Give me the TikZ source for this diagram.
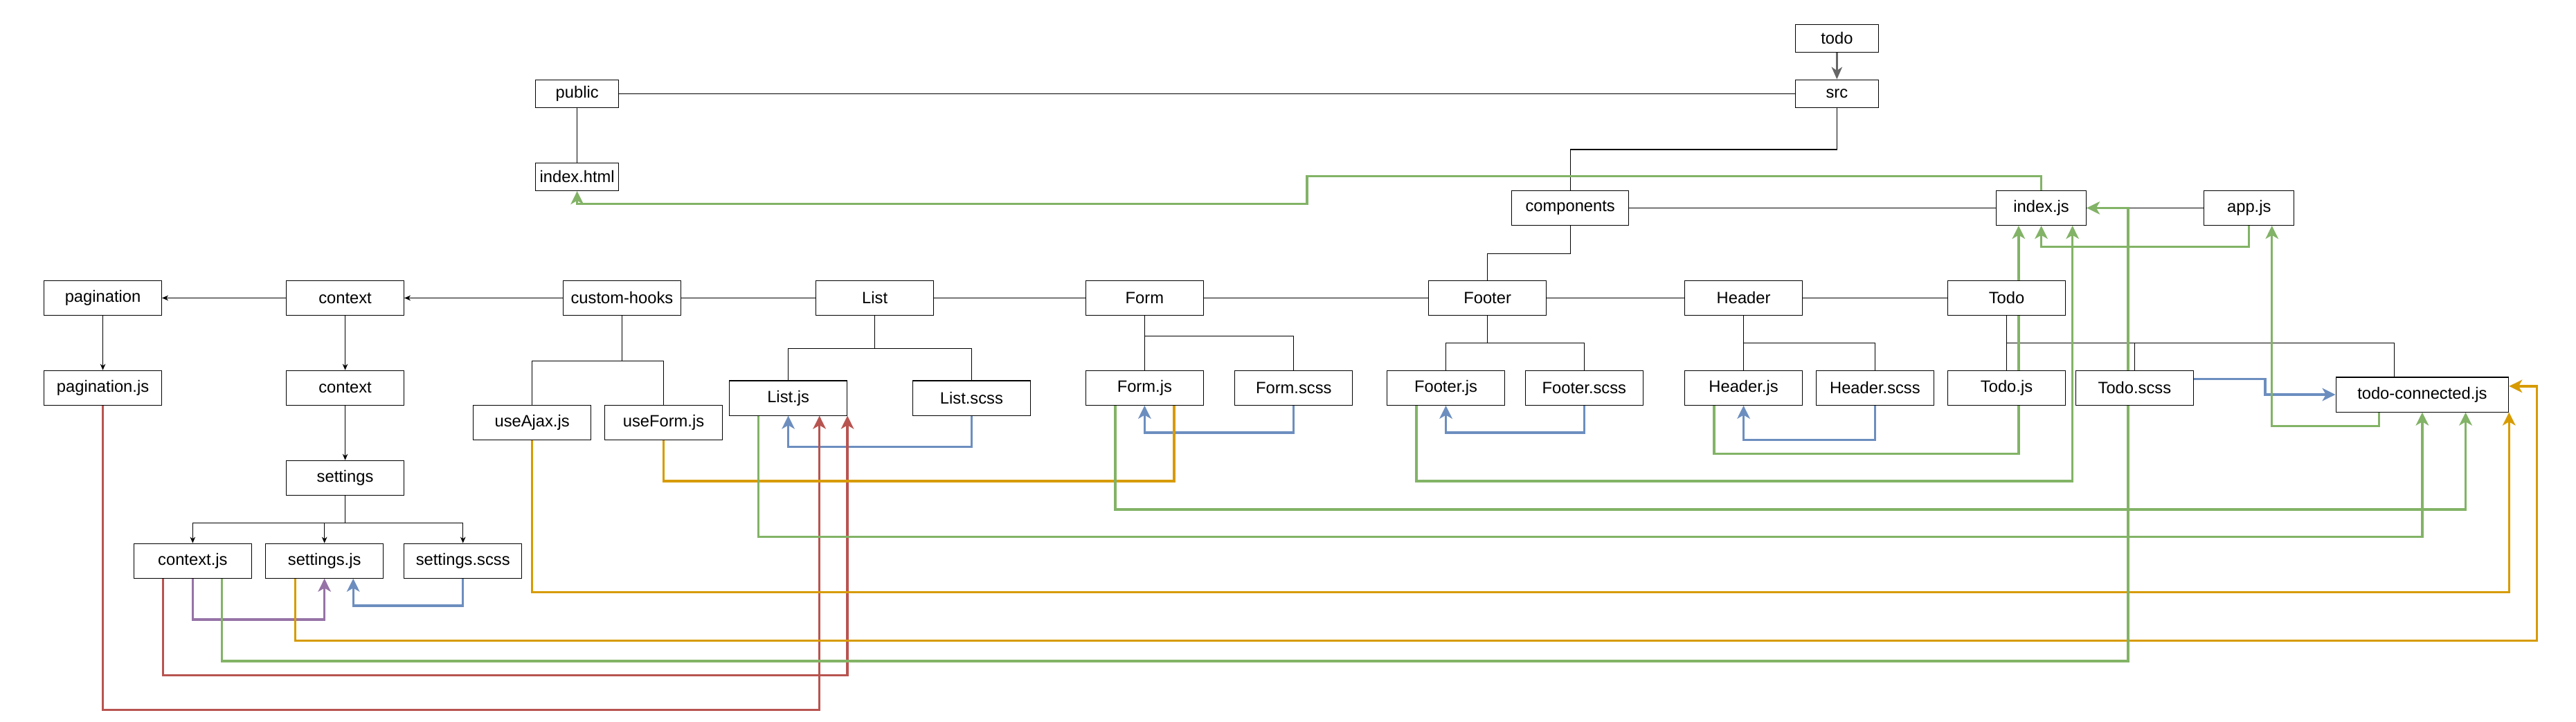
\documentclass[tikz,border=0pt]{standalone}
\usepackage{fontspec}
\setmainfont{Liberation Sans}
\usetikzlibrary{arrows.meta,backgrounds}

\definecolor{impgreen}{HTML}{82B366}
\definecolor{impblue}{HTML}{6C8EBF}
\definecolor{impred}{HTML}{B85450}
\definecolor{imporange}{HTML}{D79B00}
\definecolor{imppurple}{HTML}{9673A6}

\tikzset{
  file/.style={draw, fill=white, line width=0.45pt, minimum width=71.6pt, minimum height=21.1pt, inner sep=0pt, font=\fontsize{10}{12}\selectfont},
  dir/.style={file, minimum width=50.4pt, minimum height=17pt},
  branch/.style={line width=0.45pt},
  branchto/.style={branch, -{Stealth[length=3.8pt,width=3.2pt,inset=1.2pt]}},
  rootarrow/.style={line width=1.1pt, draw=black!60, -{Stealth[length=7.5pt,width=6.5pt,inset=2.2pt]}},
  plainimp/.style={line width=1.4pt},
  imp/.style={plainimp, -{Stealth[length=8pt,width=7.8pt,inset=2.2pt]}}
}

\begin{document}
\begin{tikzpicture}[x=1pt,y=-1pt]
\useasboundingbox (0,0) rectangle (1568,439.1);

% top of the tree
\path (1118.1,23.3) node[dir] (todoroot) {todo}
      (1118.1,57) node[dir] (src) {src}
      (351.3,57) node[dir] (public) {public}
      (351.3,107.6) node[dir] (indexhtml) {index.html}
      (955.8,126.6) node[file, minimum width=71.4pt] (components) {components}
      (1242.5,126.6) node[file, minimum width=54.8pt] (indexjs) {index.js}
      (1369,126.6) node[file, minimum width=54.8pt] (appjs) {app.js}
      ;

% folders
\path (62.6,181.4) node[file] (pagination) {pagination}
      (210.1,181.4) node[file] (context) {context}
      (378.6,181.4) node[file] (customhooks) {custom-hooks}
      (532.5,181.4) node[file] (list) {List}
      (696.7,181.4) node[file] (form) {Form}
      (905.4,181.4) node[file] (footer) {Footer}
      (1061.3,181.4) node[file] (header) {Header}
      (1221.4,181.4) node[file] (todo) {Todo}
      (210.1,236.1) node[file] (contextdir) {context}
      (210.1,290.9) node[file] (settings) {settings}
      ;

% files
\path (62.6,236.1) node[file] (paginationjs) {pagination.js}
      (117.3,341.4) node[file] (contextjs) {context.js}
      (197.5,341.4) node[file] (settingsjs) {settings.js}
      (281.8,341.4) node[file] (settingsscss) {settings.scss}
      (323.9,257.1) node[file] (useajaxjs) {useAjax.js}
      (403.9,257.1) node[file] (useformjs) {useForm.js}
      (479.8,242.3) node[file] (listjs) {List.js}
      (591.4,242.3) node[file] (listscss) {List.scss}
      (696.7,236.1) node[file] (formjs) {Form.js}
      (787.5,236.1) node[file] (formscss) {Form.scss}
      (880.1,236.1) node[file] (footerjs) {Footer.js}
      (964.3,236.1) node[file] (footerscss) {Footer.scss}
      (1061.3,236.1) node[file] (headerjs) {Header.js}
      (1141.3,236.1) node[file] (headerscss) {Header.scss}
      (1221.4,236.1) node[file] (todojs) {Todo.js}
      (1299.3,236.1) node[file] (todoscss) {Todo.scss}
      (1474.4,240.2) node[file, minimum width=105.2pt] (todoconn) {todo-connected.js}
      ;

\begin{scope}[on background layer]
% folder tree
\draw[rootarrow] (node cs:name=todoroot) -- (node cs:name=src);
\draw[branch] (node cs:name=public) -- (node cs:name=src);
\draw[branch] (node cs:name=public) -- (node cs:name=indexhtml);
\draw[branch] (src.south) -- ++(0,25.3) -| (components.north);
\draw[branch] (node cs:name=components) -- (node cs:name=indexjs);
\draw[branch] (node cs:name=indexjs) -- (node cs:name=appjs);
\draw[branch] (components.south) -- ++(0,16.9) -| (footer.north);
\draw[branch] (node cs:name=footer) -- (node cs:name=form);
\draw[branch] (node cs:name=form) -- (node cs:name=list);
\draw[branch] (node cs:name=list) -- (node cs:name=customhooks);
\draw[branchto] (node cs:name=customhooks) -- (node cs:name=context);
\draw[branchto] (node cs:name=context) -- (node cs:name=pagination);
\draw[branch] (node cs:name=footer) -- (node cs:name=header);
\draw[branch] (node cs:name=header) -- (node cs:name=todo);
\draw[branchto] (node cs:name=pagination) -- (node cs:name=paginationjs);
\draw[branchto] (node cs:name=context) -- (node cs:name=contextdir);
\draw[branchto] (node cs:name=contextdir) -- (node cs:name=settings);
\foreach \n in {contextjs,settingsjs,settingsscss}
  \draw[branchto] (settings.south) -- ++(0,16.8) -| (\n.north);
\foreach \n in {useajaxjs,useformjs}
  \draw[branch] (customhooks.south) -- ++(0,27.4) -| (\n.north);
\foreach \n in {listjs,listscss}
  \draw[branch] (list.south) -- ++(0,19.9) -| (\n.north);
\draw[branch] (node cs:name=form) -- (node cs:name=formjs);
\draw[branch] (form.south) -- ++(0,12.6) -| (formscss.north);
\foreach \n in {footerjs,footerscss}
  \draw[branch] (footer.south) -- ++(0,16.7) -| (\n.north);
\draw[branch] (node cs:name=header) -- (node cs:name=headerjs);
\draw[branch] (header.south) -- ++(0,16.7) -| (headerscss.north);
\draw[branch] (node cs:name=todo) -- (node cs:name=todojs);
\draw[branch] (todo.south) -- ++(0,16.7) -| (todoscss.north);
\draw[branch] (todo.south) -- ++(0,16.7) -| ([xshift=-16.9pt]todoconn.north);

% styles into components
\draw[imp, impblue] (settingsscss.south) -- ++(0,16.5) -| ([xshift=17.5pt]settingsjs.south);
\draw[imp, impblue] (listscss.south) -- ++(0,19) -| (listjs.south);
\draw[imp, impblue] (formscss.south) -- ++(0,16.5) -| (formjs.south);
\draw[imp, impblue] (footerscss.south) -- ++(0,16.5) -| (footerjs.south);
\draw[imp, impblue] (headerscss.south) -- ++(0,21) -| (headerjs.south);
\draw[imp, impblue] ([yshift=5.3pt]todoscss.east) -- ++(43.4,0) |- (todoconn.west);

% context
\draw[imp, imppurple] (contextjs.south) -- ++(0,25) -| (settingsjs.south);
\draw[imp, impred] (paginationjs.south) -- ++(0,185.2) -| ([xshift=19pt]listjs.south);
\draw[imp, impred] ([xshift=-18pt]contextjs.south) -- ++(0,58.9) -| (listjs.south east);

% hooks
\draw[plainimp, imporange] (useformjs.south) -- ++(0,25) -| ([xshift=18pt]formjs.south);
\draw[imp, imporange] (useajaxjs.south) -- ++(0,92.6) -| (todoconn.south east);
\draw[imp, imporange] ([xshift=-17.8pt]settingsjs.south) -- ++(0,37.8) -| ([xshift=16.9pt,yshift=5.1pt]todoconn.east) -- ([yshift=5.1pt]todoconn.east);

% components into index.js and todo-connected.js
\draw[imp, impgreen] (indexjs.north) -- ++(0,-8.5) -- ++(-446.9,0) -- ++(0,16.7) -| (indexhtml.south);
\draw[imp, impgreen] (appjs.south) -- ++(0,12.8) -| (indexjs.south);
\draw[imp, impgreen] ([xshift=17.7pt]contextjs.south) -- ++(0,50.3) -| ([xshift=25.2pt]indexjs.east) -- (indexjs.east);
\draw[imp, impgreen] ([xshift=-18.2pt]listjs.south) -- ++(0,73.7) -| (todoconn.south);
\draw[imp, impgreen] ([xshift=-17.9pt]formjs.south) -- ++(0,63.2) -| ([xshift=26.4pt]todoconn.south);
\draw[imp, impgreen] ([xshift=-17.9pt]footerjs.south) -- ++(0,46) -| ([xshift=19pt]indexjs.south);
\draw[imp, impgreen] ([xshift=-17.9pt]headerjs.south) -- ++(0,29.4) -| ([xshift=-13.8pt]indexjs.south);
\draw[imp, impgreen] ([xshift=-26.3pt]todoconn.south) -- ++(0,8.3) -| ([xshift=13.9pt]appjs.south);
\end{scope}
\end{tikzpicture}
\end{document}
